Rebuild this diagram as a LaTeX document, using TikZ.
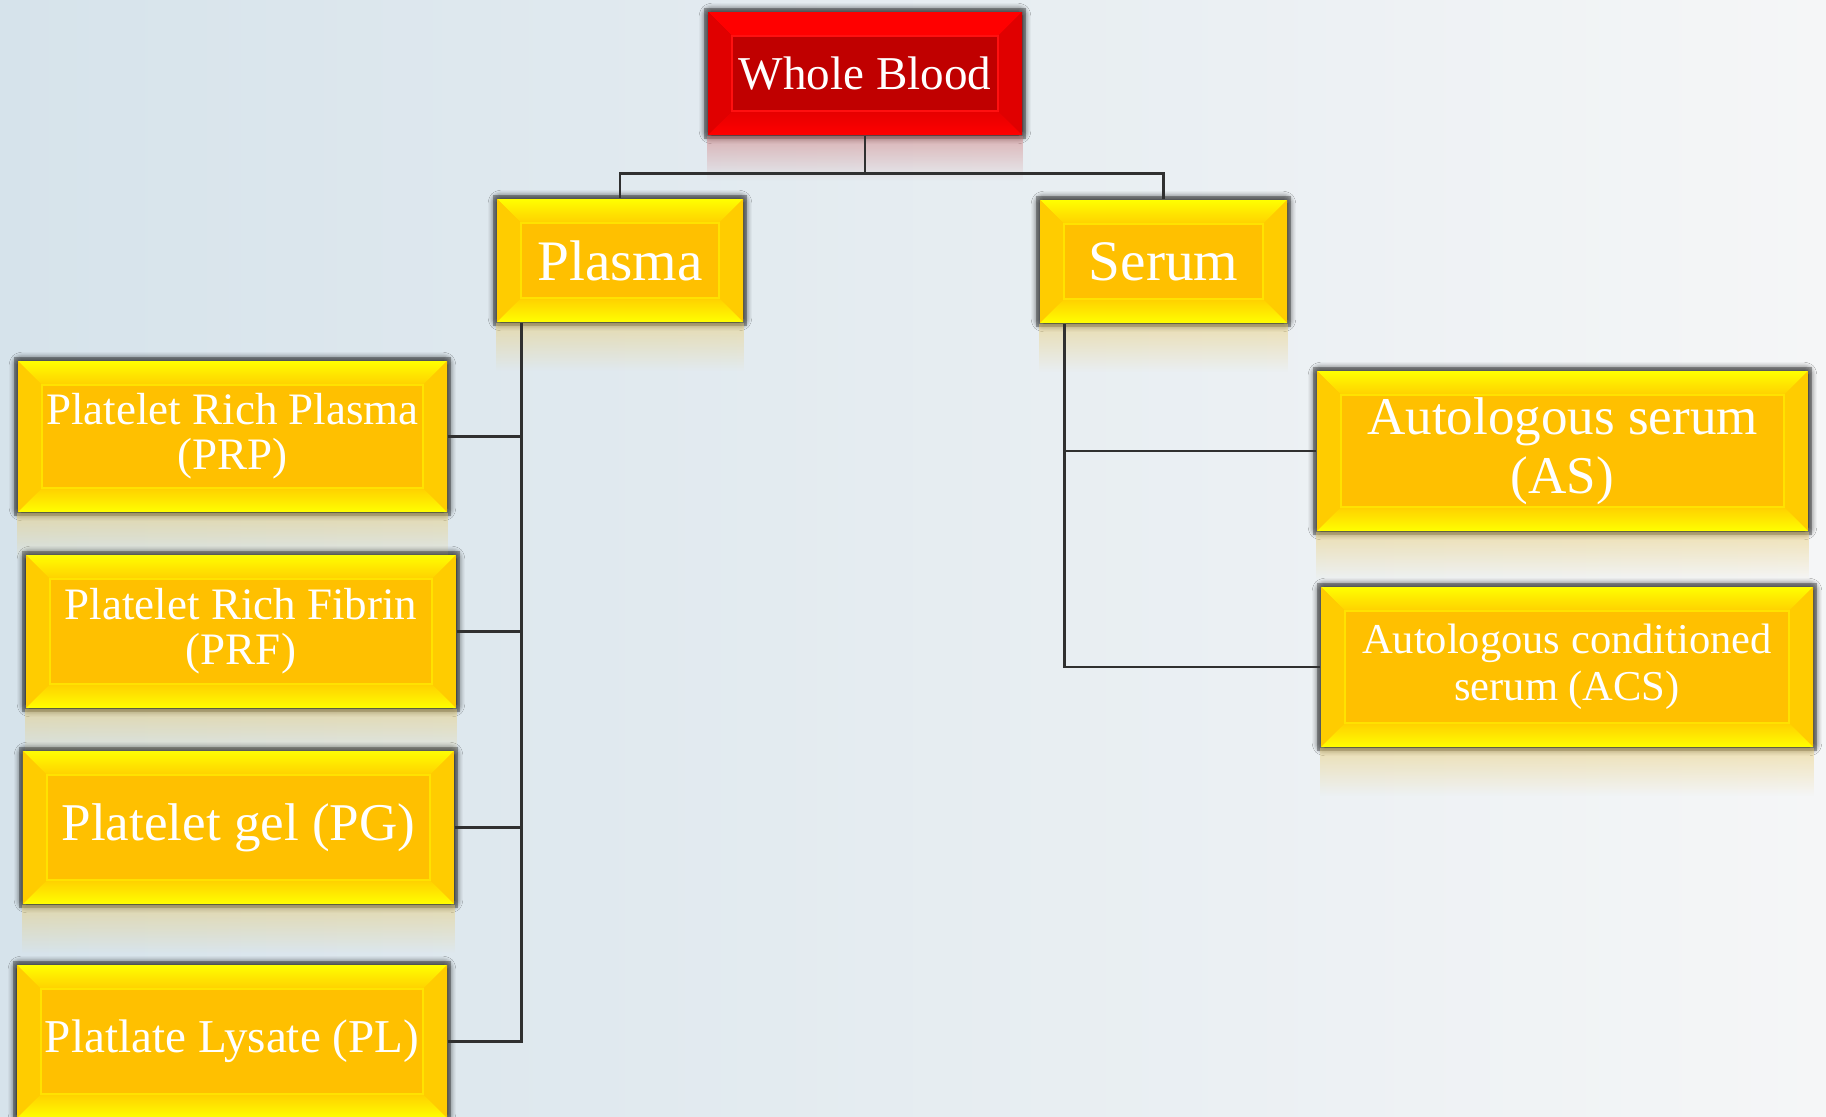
\documentclass[tikz,border=0pt]{standalone}
\usepackage{fontspec}
\setmainfont{Liberation Serif}
\usetikzlibrary{shadows.blur,fadings}

\definecolor{goldface}{HTML}{FFC000}
\definecolor{goldtop}{HTML}{FFFF00}
\definecolor{goldside}{HTML}{FFCC00}
\definecolor{goldline}{HTML}{FFE200}
\definecolor{goldrefc}{HTML}{EACC70}
\definecolor{redface}{HTML}{C00000}
\definecolor{redtop}{HTML}{FF0000}
\definecolor{redside}{HTML}{E00000}
\definecolor{redline}{HTML}{FF1010}
\definecolor{redrefc}{HTML}{D07878}
\definecolor{bgleft}{HTML}{D6E3EB}
\definecolor{bgright}{HTML}{F5F6F7}
\definecolor{linkgray}{HTML}{303030}

\tikzfading[name=reflfade, top color=transparent!50, bottom color=transparent!100]

\tikzset{
  bevel/.style n args={4}{path picture={
      \coordinate (bnw) at (path picture bounding box.north west);
      \coordinate (bne) at (path picture bounding box.north east);
      \coordinate (bsw) at (path picture bounding box.south west);
      \coordinate (bse) at (path picture bounding box.south east);
      \coordinate (inw) at ([shift={(0.24,-0.24)}]bnw);
      \coordinate (ine) at ([shift={(-0.24,-0.24)}]bne);
      \coordinate (isw) at ([shift={(0.24,0.24)}]bsw);
      \coordinate (ise) at ([shift={(-0.24,0.24)}]bse);
      \path[#2] (bnw) -- (bne) -- (ine) -- (inw) -- cycle;
      \path[#3] (bnw) -- (inw) -- (isw) -- (bsw) -- cycle;
      \path[#3] (bne) -- (ine) -- (ise) -- (bse) -- cycle;
      \path[#4] (bsw) -- (isw) -- (ise) -- (bse) -- cycle;
      \draw[#1, line width=0.6pt] (inw) rectangle (ise);
  }},
  boxshadow/.style={blur shadow={shadow xshift=0pt, shadow yshift=0pt,
      shadow blur radius=2.5pt, shadow blur extra rounding=1pt,
      shadow opacity=100, shadow blur steps=8},
    preaction={draw=black, draw opacity=0.3, line width=2.4pt}},
  goldbox/.style={rectangle, inner sep=0pt, align=center, text=white,
    fill=goldface, boxshadow,
    bevel={goldline}{top color=goldtop, middle color=goldtop,
        bottom color=goldface!75!goldtop}%
      {left color=goldside, right color=goldside}%
      {top color=goldface!75!goldtop, middle color=goldtop, bottom color=goldtop}},
  redbox/.style={rectangle, inner sep=0pt, align=center, text=white,
    fill=redface, boxshadow,
    bevel={redline}{fill=redtop}{fill=redside}%
      {top color=redtop!60!redface, bottom color=redtop}},
  goldrefl/.style={fill=goldrefc, path fading=reflfade},
  redrefl/.style={fill=redrefc, path fading=reflfade},
  link/.style={draw=linkgray, line width=0.8pt},
}

\begin{document}
\begin{tikzpicture}
  % background
  \shade[left color=bgleft, right color=bgright] (0,0) rectangle (18.26,-11.17);
  \useasboundingbox (0,0) rectangle (18.26,-11.17);

  % top
  \node[redbox, minimum width=3.14cm, minimum height=1.23cm,
        font=\fontsize{13.4}{13.4}\selectfont] (wb) at (8.65,-0.735) {Whole Blood};
  \node[goldbox, minimum width=2.46cm, minimum height=1.23cm,
        font=\fontsize{16.3}{16.3}\selectfont] (plasma) at (6.20,-2.605) {Plasma};
  \node[goldbox, minimum width=2.47cm, minimum height=1.23cm,
        font=\fontsize{16.3}{16.3}\selectfont] (serum) at (11.635,-2.615) {Serum};

  % plasma products
  \node[goldbox, minimum width=4.29cm, minimum height=1.51cm,
        font=\fontsize{12.8}{12.8}\selectfont] (prp) at (2.325,-4.365)
        {Platelet Rich Plasma\\(PRP)};
  \node[goldbox, minimum width=4.30cm, minimum height=1.53cm,
        font=\fontsize{12.8}{12.8}\selectfont] (prf) at (2.41,-6.315)
        {Platelet Rich Fibrin\\(PRF)};
  \node[goldbox, minimum width=4.31cm, minimum height=1.53cm,
        font=\fontsize{15.1}{15.1}\selectfont] (pg) at (2.385,-8.275)
        {Platelet gel (PG)};
  \node[goldbox, minimum width=4.30cm, minimum height=1.53cm,
        font=\fontsize{13.4}{13.4}\selectfont] (pl) at (2.32,-10.415)
        {Platlate Lysate (PL)};

  % serum products
  \node[goldbox, minimum width=4.91cm, minimum height=1.60cm,
        font=\fontsize{15.1}{16.7}\selectfont] (as) at (15.625,-4.51)
        {Autologous serum\\(AS)};
  \node[goldbox, minimum width=4.92cm, minimum height=1.60cm,
        font=\fontsize{12.1}{13.3}\selectfont] (acs) at (15.67,-6.67)
        {Autologous conditioned\\serum (ACS)};

  % reflections
  \fill[redrefl] (wb.south west) rectangle ([yshift=-0.45cm]wb.south east);
  \foreach \n in {plasma,serum,prp,prf,pg,as,acs}
    \fill[goldrefl] (\n.south west) rectangle ([yshift=-0.48cm]\n.south east);

  % connectors
  \draw[link] (wb.south) -- ++(0,-0.38) -| (plasma.north);
  \draw[link] (wb.south) -- ++(0,-0.38) -| (serum.north);
  \foreach \n in {prp,prf,pg,pl}
    \draw[link] (\n.east) -| ([xshift=0.25cm]plasma.south west);
  \foreach \n in {as,acs}
    \draw[link] (\n.west) -| ([xshift=0.25cm]serum.south west);
\end{tikzpicture}
\end{document}
